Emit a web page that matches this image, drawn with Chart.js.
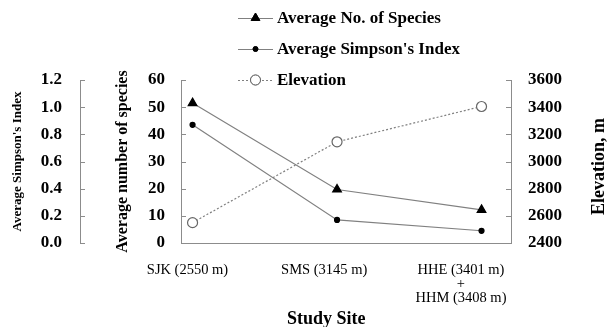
<!DOCTYPE html>
<html>
<head>
<meta charset="utf-8">
<script src="https://cdn.jsdelivr.net/npm/chart.js@4.4.1/dist/chart.umd.min.js"></script>
<style>
  html, body { margin: 0; padding: 0; background: #fff; }
  #wrap { width: 610px; height: 327px; position: relative; }
</style>
</head>
<body>
<div id="wrap"><canvas id="chart"></canvas></div>
<script>
// values
const sites = ['SJK (2550 m)', 'SMS (3145 m)', ['HHE (3401 m)', '+', 'HHM (3408 m)']]
const siteIndex = [0, 1, 2]
const species = [51.5, 19.7, 12.2]
const simpson = [0.87, 0.17, 0.09]
const elevation = [2550, 3145, 3405]

const lineGray = '#808080'
const axisGray = '#8c8c8c'
const serif = "'Liberation Serif', 'Times New Roman', serif"

Chart.defaults.font.family = serif
Chart.defaults.color = '#000'

const ctx = document.getElementById('chart')

// legend, outer titles and inward tick marks
const extras = {
    id: 'extras',
    afterDraw(chart) {
        const c = chart.ctx
        c.save()

        // tick marks pointing into the plot
        c.strokeStyle = axisGray
        c.lineWidth = 1
        for (const id of ['y', 'yS', 'yE']) {
            const s = chart.scales[id]
            for (const t of s.ticks) {
                const py = Math.round(s.getPixelForValue(t.value)) + 0.5
                c.beginPath()
                if (id === 'yE') {
                    c.moveTo(s.left - 5, py)
                    c.lineTo(s.left, py)
                } else {
                    c.moveTo(s.right, py)
                    c.lineTo(s.right + 5, py)
                }
                c.stroke()
            }
        }

        // legend
        const rows = [18, 49, 80]
        chart.data.datasets.forEach((ds, i) => {
            const y = rows[i]
            c.strokeStyle = ds.borderColor
            c.lineWidth = 1
            c.setLineDash(ds.borderDash || [])
            c.beginPath()
            c.moveTo(238, y + 0.5)
            c.lineTo(273, y + 0.5)
            c.stroke()
            c.setLineDash([])
            Chart.helpers.drawPoint(c, {
                pointStyle: ds.pointStyle,
                radius: ds.pointRadius,
                borderWidth: 1,
                rotation: 0
            }, 255.5, y)
            c.fillStyle = ds.pointBackgroundColor
            c.strokeStyle = ds.pointBorderColor
            c.fill()
            c.stroke()
            c.fillStyle = '#000'
            c.font = 'bold 17px ' + serif
            c.textAlign = 'left'
            c.textBaseline = 'middle'
            c.fillText(ds.label, 277, y + 1)
        })

        // x axis title centred under the middle site
        const xl = chart.scales.xl
        c.font = 'bold 18px ' + serif
        c.textAlign = 'center'
        c.textBaseline = 'alphabetic'
        c.fillText('Study Site', xl.getPixelForValue(1) + 2, 324)

        // right axis title, reading bottom to top
        const yE = chart.scales.yE
        c.translate(599, (yE.top + yE.bottom) / 2 + 5)
        c.rotate(-Math.PI / 2)
        c.textBaseline = 'middle'
        c.fillText('Elevation, m', 0, 0)
        c.restore()
    }
}

new Chart(ctx, {
    type: 'line',
    data: {
        datasets: [{
            label: 'Average No. of Species',
            data: siteIndex.map((x, i) => ({ x: x, y: species[i] })),
            yAxisID: 'y',
            borderColor: lineGray,
            borderWidth: 1.2,
            pointStyle: 'triangle',
            pointRadius: 5,
            pointBackgroundColor: '#000',
            pointBorderColor: '#000'
        }, {
            label: "Average Simpson's Index",
            data: siteIndex.map((x, i) => ({ x: x, y: simpson[i] })),
            yAxisID: 'yS',
            borderColor: lineGray,
            borderWidth: 1.2,
            pointStyle: 'circle',
            pointRadius: 2.5,
            pointBackgroundColor: '#000',
            pointBorderColor: '#000'
        }, {
            label: 'Elevation',
            data: siteIndex.map((x, i) => ({ x: x, y: elevation[i] })),
            yAxisID: 'yE',
            borderColor: lineGray,
            borderWidth: 1.2,
            borderDash: [2, 2],
            pointStyle: 'circle',
            pointRadius: 5,
            pointBackgroundColor: '#fff',
            pointBorderColor: '#666'
        }]
    },
    options: {
        responsive: true,
        maintainAspectRatio: false,
        animation: false,
        layout: { padding: { top: 80, left: 0, right: 0, bottom: 0 } },
        plugins: { legend: { display: false }, tooltip: { enabled: false } },
        scales: {
            x: {
                type: 'linear',
                position: 'bottom',
                weight: 0,
                min: -0.08,
                max: 2.204,
                grid: { display: false, drawTicks: false },
                ticks: { display: false },
                border: { display: true, color: axisGray, width: 1 },
                afterFit(s) { s.height = 0 }
            },
            xl: {
                type: 'linear',
                position: 'bottom',
                weight: 1,
                min: -0.0475,
                max: 2.366,
                grid: { display: false, drawTicks: false },
                border: { display: false },
                ticks: {
                    autoSkip: false,
                    padding: 20,
                    maxRotation: 0,
                    font: { size: 14.5, lineHeight: 0.97 },
                    callback: (v) => sites[v]
                },
                afterBuildTicks(s) { s.ticks = siteIndex.map(v => ({ value: v })) },
                afterFit(s) { s.height = 84 }
            },
            y: {
                position: 'left',
                weight: 0,
                min: 0,
                max: 60,
                ticks: { stepSize: 10, padding: 16, font: { size: 17, weight: 'bold' } },
                grid: { display: false, drawTicks: false },
                border: { display: true, color: axisGray, width: 1 },
                title: {
                    display: true,
                    text: 'Average number of species',
                    font: { size: 16, weight: 'bold' },
                    padding: { top: 33, bottom: 0 }
                },
                afterFit(s) { s.width = 101 }
            },
            yS: {
                position: 'left',
                weight: 1,
                min: 0,
                max: 1.2,
                ticks: {
                    stepSize: 0.2,
                    padding: 18,
                    font: { size: 17, weight: 'bold' },
                    callback: (v) => v.toFixed(1)
                },
                grid: { display: false, drawTicks: false },
                border: { display: true, color: axisGray, width: 1 },
                title: {
                    display: true,
                    text: "Average Simpson's Index",
                    font: { size: 13, weight: 'bold' },
                    padding: { top: 10, bottom: 0 }
                },
                afterFit(s) { s.width = 80 }
            },
            yE: {
                position: 'right',
                min: 2400,
                max: 3600,
                ticks: {
                    stepSize: 200,
                    padding: 17,
                    font: { size: 17, weight: 'bold' },
                    callback: (v) => String(v)
                },
                grid: { display: false, drawTicks: false },
                border: { display: true, color: axisGray, width: 1 },
                afterFit(s) { s.width = 99 }
            }
        }
    },
    plugins: [extras]
})
</script>
</body>
</html>
